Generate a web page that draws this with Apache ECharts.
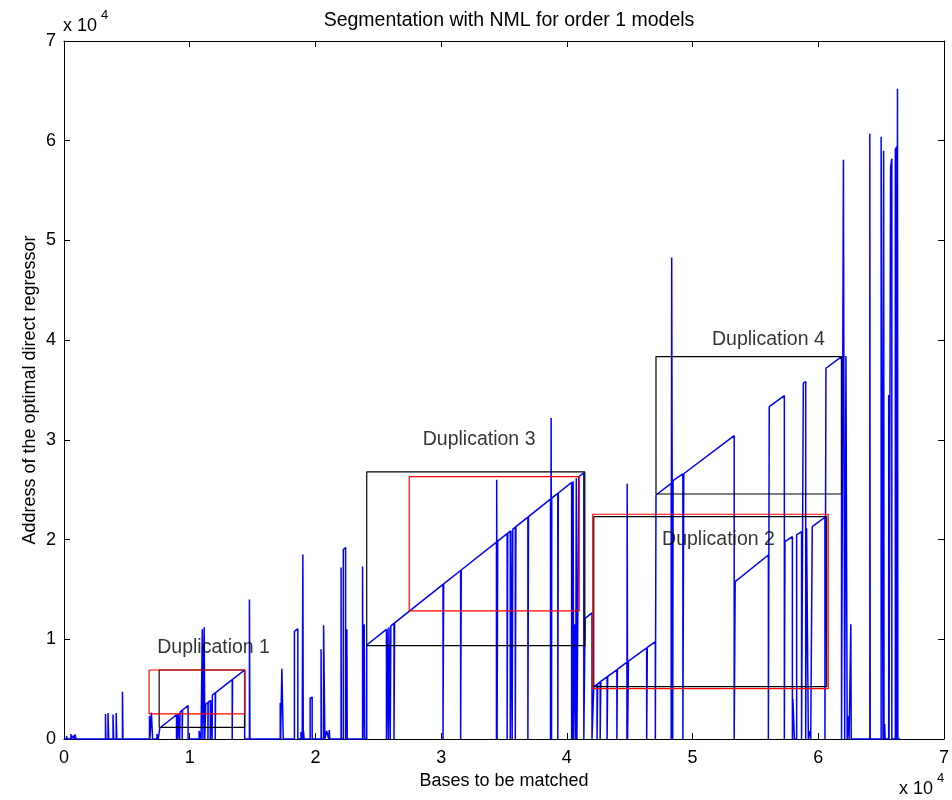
<!DOCTYPE html>
<html>
<head>
<meta charset="utf-8">
<script src="https://cdn.jsdelivr.net/npm/echarts@6/dist/echarts.min.js"></script>
<style>
  html, body { margin: 0; background: #fff; }
  #main { width: 952px; height: 800px; }
</style>
</head>
<body>
<div id="main"></div>
<script>
// each match: [start base, start address, end base, end address]
var matchesLeft = [
  [200, 300, 260, 300], [550, 500, 600, 500], [750, 350, 800, 400], [880, 450, 950, 500],
  [3300, 2500, 3330, 2500], [3500, 2600, 3560, 2650], [3900, 2450, 3950, 2500], [4150, 2600, 4200, 2700],
  [4650, 4750, 4690, 4750], [6800, 2300, 6830, 2350], [6950, 2650, 7050, 2750], [7400, 500, 7500, 700],
  [7620, 1100, 8950, 2430], [8980, 2460, 9050, 2530], [9080, 2560, 9200, 2680], [9230, 2710, 9400, 2880],
  [9430, 2910, 9870, 3350], [10750, 800, 10900, 1000], [11000, 11000, 11050, 11100], [11150, 11200, 11200, 11200],
  [11270, 3500, 11450, 3650], [11470, 3700, 11640, 3850], [11660, 3900, 11780, 4000],
  [11800, 4400, 12030, 4620], [12060, 4650, 13380, 5950], [13410, 5980, 14370, 6920],
  [14750, 14000, 14790, 14000], [17200, 3600, 17230, 3600], [17330, 7050, 17440, 7160],
  [18330, 10800, 18600, 11050], [18850, 700, 18950, 900], [19000, 18500, 19030, 18550], [19050, 800, 19100, 900],
  [19580, 4100, 19740, 4200], [20450, 9000, 20480, 9100], [20650, 11400, 20750, 11500],
  [20900, 800, 21050, 1000], [21100, 900, 21150, 1000], [22040, 17200, 22060, 17200],
  [22220, 19000, 22400, 19200], [22500, 11000, 22530, 11100], [23750, 17300, 23780, 17350],
  [23880, 11500, 23920, 11550]
];
var matchesDup3 = [
  [24080, 9430, 25650, 11000], [25700, 11050, 25800, 11150], [25850, 11200, 25950, 11300],
  [26000, 11350, 26250, 11600], [26300, 11650, 30150, 15500], [30200, 15550, 31550, 16900],
  [31600, 16950, 34400, 19750], [34420, 26000, 34450, 26000], [34500, 19850, 35250, 20600],
  [35300, 20650, 35500, 20850], [35550, 20900, 35650, 21000], [35700, 21050, 35900, 21250],
  [35950, 21300, 36900, 22250], [36950, 22300, 38700, 24050], [38750, 32200, 38780, 32200],
  [38800, 24150, 39280, 24630], [39320, 24670, 40380, 25730], [40420, 11200, 40480, 11300],
  [40500, 25850, 40540, 25890], [40600, 11500, 40700, 11600], [40750, 26150, 40800, 26200],
  [40950, 26300, 41350, 26700], [41450, 12100, 42000, 12650]
];
var matchesRight = [
  [42140, 5250, 42400, 5490], [42450, 5530, 42650, 5720], [42700, 5770, 43200, 6230],
  [43250, 6270, 43980, 6940], [44020, 6980, 44780, 7700], [44800, 25600, 44830, 25600],
  [44900, 7800, 46350, 9130], [46400, 9180, 47040, 9770], [47090, 24470, 48300, 25630],
  [48340, 48300, 48420, 48300], [48450, 25900, 49230, 26580], [49300, 26600, 53310, 30420],
  [53390, 15780, 56030, 18450], [56100, 33330, 57300, 34440], [57350, 19790, 57940, 20290],
  [57980, 4000, 58100, 4200], [58280, 20460, 58670, 20790], [58810, 35680, 59000, 35840],
  [59070, 21130, 59210, 21300], [59300, 800, 59400, 1000], [59520, 21300, 60530, 22240],
  [60610, 37180, 61850, 38350]
];
var matchesTail = [
  [62000, 58100, 62100, 58200], [62200, 38400, 62300, 38400], [62350, 2300, 62450, 2500],
  [62590, 11500, 62620, 11600], [64100, 60700, 64130, 60700], [65000, 60400, 65150, 60500],
  [65200, 59000, 65230, 59000], [65280, 1500, 65320, 1500], [65600, 34500, 65630, 34500],
  [65750, 57300, 65850, 58200], [66130, 59100, 66250, 59400], [66300, 65200, 66330, 65200]
];
var lastBase = 66500;

// duplication boxes: [x0, y0, x1, y1]
var blackBoxes = [
  [7570, 1170, 14370, 6920], [24080, 9360, 41430, 26780],
  [42140, 5250, 60670, 22300], [47090, 24570, 61850, 38350]
];
var redBoxes = [
  [6770, 2510, 14370, 6920], [27460, 12840, 40980, 26310], [42060, 5050, 60790, 22540]
];

var dupLabels = ['Duplication 1', 'Duplication 2', 'Duplication 3', 'Duplication 4'];
var dupLabelX = [11900, 52060, 33020, 56030];
var dupLabelY = [9130, 19960, 29990, 40020];

var xTickLabels = ['0', '1', '2', '3', '4', '5', '6', '7'];
var yTickLabels = ['0', '1', '2', '3', '4', '5', '6', '7'];

var FONT = 'Liberation Sans, Arial, Helvetica, sans-serif';

// polyline: baseline 0, jump to the match, follow it, back to 0
var allMatches = matchesLeft.concat(matchesDup3, matchesRight, matchesTail);
var trace = [[0, 0]];
allMatches.forEach(function (m) {
  trace.push([m[0], 0], [m[0], m[1]], [m[2], m[3]], [m[2], 0]);
});
trace.push([lastBase, 0]);

function boxSeries(b, color) {
  return {
    type: 'line', data: [[b[0], b[1]], [b[2], b[1]], [b[2], b[3]], [b[0], b[3]], [b[0], b[1]]],
    showSymbol: false, silent: true, z: 3,
    lineStyle: { color: color, width: 1.2 }
  };
}

var series = [{
  type: 'line', data: trace, showSymbol: false, z: 2, silent: true,
  lineStyle: { color: '#0000ff', width: 1.5 }
}];
blackBoxes.forEach(function (b) { series.push(boxSeries(b, '#000')); });
redBoxes.forEach(function (b) { series.push(boxSeries(b, '#ff0000')); });
series.push({
  type: 'scatter', symbolSize: 0, z: 5, silent: true,
  data: dupLabels.map(function (t, i) { return { value: [dupLabelX[i], dupLabelY[i]], name: t }; }),
  label: {
    show: true, position: 'inside', formatter: '{b}',
    color: '#000', fontSize: 19.5, fontFamily: FONT
  }
});

function axisBase(pos, labels) {
  return {
    type: 'value', position: pos, min: 0, max: 70000, interval: 10000,
    axisLine: { show: true, onZero: false, lineStyle: { color: '#000', width: 1 } },
    axisTick: { show: true, inside: true, length: 6, lineStyle: { color: '#000' } },
    splitLine: { show: false },
    axisLabel: labels ? {
      show: true, color: '#000', fontSize: 18, fontFamily: FONT,
      formatter: function (v) { return labels[Math.round(v / 10000)]; }
    } : { show: false }
  };
}

var xBottom = axisBase('bottom', xTickLabels);
xBottom.axisLabel.margin = 10;
xBottom.name = 'Bases to be matched';
xBottom.nameLocation = 'middle';
xBottom.nameGap = 30;
xBottom.nameTextStyle = { color: '#000', fontSize: 18, fontFamily: FONT };

var yLeft = axisBase('left', yTickLabels);
yLeft.axisLabel.margin = 8;
yLeft.name = 'Address of the optimal direct regressor';
yLeft.nameLocation = 'middle';
yLeft.nameGap = 25;
yLeft.nameMoveOverlap = false;
yLeft.nameTextStyle = { color: '#000', fontSize: 18, fontFamily: FONT };

var chart = echarts.init(document.getElementById('main'));
chart.setOption({
  animation: false,
  backgroundColor: '#fff',
  title: {
    text: 'Segmentation with NML for order 1 models',
    left: 504, top: 6, textAlign: 'center',
    textStyle: { color: '#000', fontSize: 19.5, fontWeight: 'normal', fontFamily: FONT }
  },
  grid: { left: 64, right: 7, top: 41, bottom: 61 },
  xAxis: [xBottom, axisBase('top', null)],
  yAxis: [yLeft, axisBase('right', null)],
  series: series,
  graphic: [
    { type: 'text', left: 63, top: 17, style: { text: 'x 10', fill: '#000', font: '18px ' + FONT } },
    { type: 'text', left: 101, top: 9, style: { text: '4', fill: '#000', font: '13px ' + FONT } },
    { type: 'text', left: 899, top: 780, style: { text: 'x 10', fill: '#000', font: '18px ' + FONT } },
    { type: 'text', left: 937, top: 772, style: { text: '4', fill: '#000', font: '13px ' + FONT } }
  ]
});
</script>
</body>
</html>
